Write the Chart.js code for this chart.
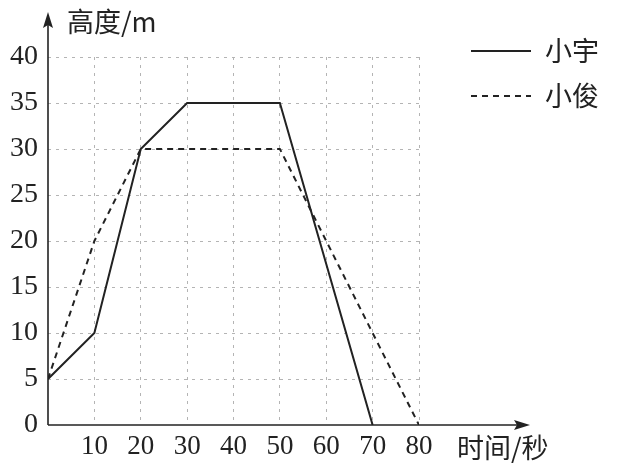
<!DOCTYPE html>
<html>
<head>
<meta charset="utf-8">
<script src="https://cdn.jsdelivr.net/npm/chart.js@4"></script>
<style>
  html, body { margin: 0; padding: 0; background: #fff; }
  #wrap { width: 629px; height: 465px; }
</style>
</head>
<body>
<div id="wrap"><canvas id="height-chart"></canvas></div>
<script>
// time in seconds, height in metres
const xiaoyuTime = [0, 10, 20, 30, 50, 70];
const xiaoyuHeight = [5, 10, 30, 35, 35, 0];
const xiaojunTime = [0, 10, 20, 50, 80];
const xiaojunHeight = [5, 20, 30, 30, 0];
const xTicks = [10, 20, 30, 40, 50, 60, 70, 80];
const yTicks = [0, 5, 10, 15, 20, 25, 30, 35, 40];

const toPoints = (xs, ys) => xs.map((x, i) => ({ x: x, y: ys[i] }));

const serif = '"Liberation Serif", "Noto Sans CJK SC", serif';
const cjk = '"Noto Sans CJK SC", sans-serif';

// axes with arrows, axis titles and legend
const decor = {
    id: 'decor',
    afterDraw(chart) {
        const ctx = chart.ctx;
        const xs = chart.scales.x, ys = chart.scales.y;
        const x0 = xs.getPixelForValue(0), y0 = ys.getPixelForValue(0);
        ctx.save();
        ctx.strokeStyle = '#222';
        ctx.fillStyle = '#222';
        ctx.lineWidth = 1.6;
        // x axis
        ctx.beginPath();
        ctx.moveTo(x0, y0);
        ctx.lineTo(522, y0);
        ctx.stroke();
        ctx.beginPath();
        ctx.moveTo(530, y0);
        ctx.lineTo(514, y0 - 5);
        ctx.lineTo(517, y0);
        ctx.lineTo(514, y0 + 5);
        ctx.closePath();
        ctx.fill();
        // y axis
        ctx.beginPath();
        ctx.moveTo(x0, y0);
        ctx.lineTo(x0, 20);
        ctx.stroke();
        ctx.beginPath();
        ctx.moveTo(x0, 12);
        ctx.lineTo(x0 - 5, 28);
        ctx.lineTo(x0, 25);
        ctx.lineTo(x0 + 5, 28);
        ctx.closePath();
        ctx.fill();
        // axis titles
        ctx.textBaseline = 'middle';
        ctx.textAlign = 'left';
        ctx.font = '27px ' + cjk;
        ctx.fillText('高度/m', 67, 22);
        ctx.fillText('时间/秒', 457, 448);
        // legend
        const ds = chart.data.datasets;
        const rows = [51, 96];
        ds.forEach((d, i) => {
            ctx.strokeStyle = d.borderColor;
            ctx.lineWidth = d.borderWidth;
            ctx.setLineDash(d.borderDash || []);
            ctx.beginPath();
            ctx.moveTo(471, rows[i]);
            ctx.lineTo(531, rows[i]);
            ctx.stroke();
            ctx.setLineDash([]);
            ctx.font = '27px ' + cjk;
            ctx.fillText(d.label, 545, rows[i]);
        });
        ctx.restore();
    }
};

new Chart(document.querySelector('canvas#height-chart'), {
    type: 'line',
    data: {
        datasets: [
            {
                label: '小宇',
                data: toPoints(xiaoyuTime, xiaoyuHeight),
                borderColor: '#222',
                borderWidth: 2,
                pointRadius: 0,
                tension: 0
            },
            {
                label: '小俊',
                data: toPoints(xiaojunTime, xiaojunHeight),
                borderColor: '#222',
                borderWidth: 2,
                borderDash: [6, 5],
                pointRadius: 0,
                tension: 0
            }
        ]
    },
    options: {
        responsive: true,
        maintainAspectRatio: false,
        animation: false,
        layout: { padding: { top: 57, right: 210, left: 0, bottom: 0 } },
        plugins: {
            legend: { display: false },
            tooltip: { enabled: false }
        },
        scales: {
            x: {
                type: 'linear',
                min: 0,
                max: 80,
                afterFit: (s) => { s.height = 40; },
                afterBuildTicks: (s) => { s.ticks = [0].concat(xTicks).map(v => ({ value: v })); },
                border: { display: false, dash: [3, 5] },
                grid: {
                    drawTicks: false,
                    color: (c) => c.tick && c.tick.value === 0 ? 'rgba(0,0,0,0)' : '#b4b4b4',
                    lineWidth: 1
                },
                ticks: {
                    padding: 6,
                    color: '#222',
                    font: { family: serif, size: 27 },
                    callback: (v) => v === 0 ? '' : String(v)
                }
            },
            y: {
                min: 0,
                max: 40,
                afterFit: (s) => { s.width = 48; },
                afterBuildTicks: (s) => { s.ticks = yTicks.map(v => ({ value: v })); },
                border: { display: false, dash: [3, 5] },
                grid: {
                    drawTicks: false,
                    color: (c) => c.tick && c.tick.value === 0 ? 'rgba(0,0,0,0)' : '#b4b4b4',
                    lineWidth: 1
                },
                ticks: {
                    padding: 10,
                    color: '#222',
                    font: { family: serif, size: 28 }
                }
            }
        }
    },
    plugins: [decor]
});
</script>
</body>
</html>
